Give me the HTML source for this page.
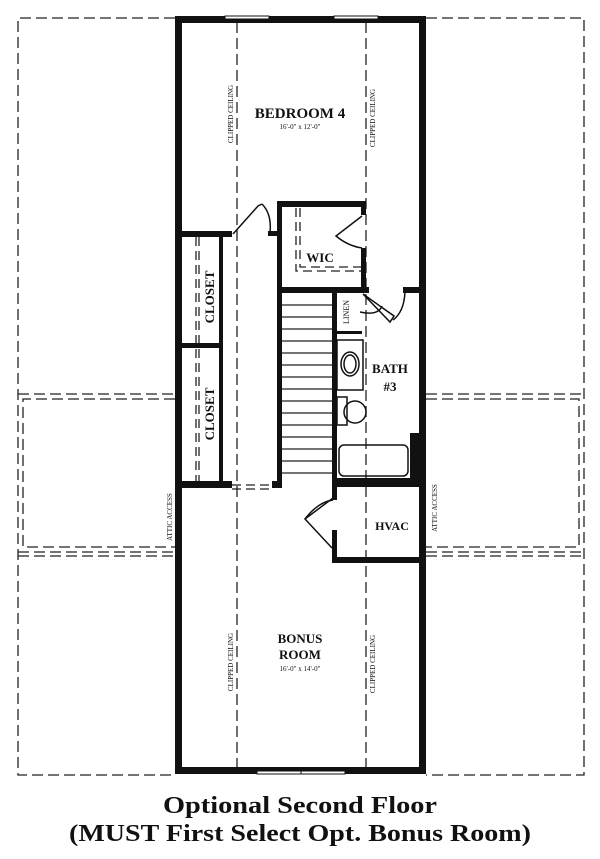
<!DOCTYPE html>
<html><head><style>
html,body{margin:0;padding:0;background:#fff;}
svg{display:block;}
text{font-family:"Liberation Serif",serif;fill:#111;}
</style></head><body>
<svg width="600" height="859" viewBox="0 0 600 859" xmlns="http://www.w3.org/2000/svg">
<g fill="none" stroke="#222" stroke-width="1.3" stroke-dasharray="11,5">
  <polyline points="175,18 18,18 18,775 175,775"/>
  <polyline points="426,18 584,18 584,775 426,775"/>
  <line x1="18" y1="394" x2="175" y2="394"/>
  <line x1="426" y1="394" x2="584" y2="394"/>
  <polyline points="175,399 23,399 23,547 175,547"/>
  <polyline points="426,399 579,399 579,547 426,547"/>
  <line x1="18" y1="552" x2="175" y2="552"/>
  <line x1="18" y1="556" x2="175" y2="556"/>
  <line x1="426" y1="552" x2="584" y2="552"/>
  <line x1="426" y1="556" x2="584" y2="556"/>
  <line x1="237" y1="22" x2="237" y2="770"/>
  <line x1="366" y1="22" x2="366" y2="770"/>
</g>
<g fill="none" stroke="#222" stroke-width="1.3" stroke-dasharray="9,5">
  <line x1="196" y1="237" x2="196" y2="483"/>
  <line x1="199" y1="237" x2="199" y2="483"/>
  <polyline points="296,208 296,271 362,271"/>
  <polyline points="300,208 300,267 362,267"/>
  <line x1="232" y1="485" x2="272" y2="485"/>
  <line x1="232" y1="489" x2="272" y2="489"/>
</g>
<g fill="#111">
  <rect x="175" y="16" width="251" height="7"/>
  <rect x="175" y="767" width="251" height="7"/>
  <rect x="175" y="16" width="7" height="758"/>
  <rect x="419" y="16" width="7" height="758"/>
  <rect x="175" y="231" width="57" height="6"/>
  <rect x="175" y="343" width="48" height="5"/>
  <rect x="219" y="233" width="4" height="252"/>
  <rect x="220" y="260" width="3" height="70"/>
  <rect x="175" y="481" width="57" height="7"/>
  <rect x="272" y="481" width="9" height="7"/>
  <rect x="277" y="202" width="5" height="286"/>
  <rect x="268" y="231" width="12" height="5"/>
  <rect x="277" y="201" width="88" height="6"/>
  <rect x="361" y="201" width="5" height="14"/>
  <rect x="361" y="248" width="5" height="45"/>
  <rect x="277" y="287" width="92" height="6"/>
  <rect x="403" y="287" width="20" height="6"/>
  <rect x="332" y="290" width="5" height="210"/>
  <rect x="332" y="530" width="5" height="32"/>
  <rect x="336" y="331" width="26" height="3"/>
  <rect x="332" y="478" width="90" height="9"/>
  <rect x="332" y="557" width="90" height="6"/>
  <rect x="410" y="433" width="11" height="50"/>
</g>
<g stroke="#222" stroke-width="1.2">
  <line x1="282" y1="305" x2="332" y2="305"/><line x1="282" y1="317" x2="332" y2="317"/>
  <line x1="282" y1="329" x2="332" y2="329"/><line x1="282" y1="341" x2="332" y2="341"/>
  <line x1="282" y1="353" x2="332" y2="353"/><line x1="282" y1="365" x2="332" y2="365"/>
  <line x1="282" y1="377" x2="332" y2="377"/><line x1="282" y1="389" x2="332" y2="389"/>
  <line x1="282" y1="401" x2="332" y2="401"/><line x1="282" y1="413" x2="332" y2="413"/>
  <line x1="282" y1="425" x2="332" y2="425"/><line x1="282" y1="437" x2="332" y2="437"/>
  <line x1="282" y1="449" x2="332" y2="449"/><line x1="282" y1="461" x2="332" y2="461"/>
  <line x1="282" y1="473" x2="332" y2="473"/>
</g>
<g fill="#fff" stroke="#111" stroke-width="1">
  <rect x="225" y="16" width="44" height="3"/>
  <rect x="334" y="16" width="44" height="3"/>
  <rect x="257" y="771" width="44" height="3"/>
  <rect x="301" y="771" width="44" height="3"/>
</g>
<g fill="none" stroke="#111" stroke-width="1.5">
  <path d="M233,234 L258,206 L262,204"/>
  <path d="M262,204 Q272,214 270,233"/>
  <path d="M362,216 L336,236 Q348,246 362,248"/>
  <path d="M363,294 L390,322 L394,316 Z"/>
  <path d="M405,292 Q404,312 393,320"/>
  <path d="M360,312 Q378,316 382,306"/>
  <rect x="337" y="340" width="26" height="50"/>
  <ellipse cx="350" cy="364" rx="9" ry="12"/>
  <ellipse cx="350" cy="364" rx="6" ry="9"/>
  <rect x="337" y="397" width="10" height="28"/>
  <circle cx="355" cy="412" r="11"/>
  <rect x="339" y="445" width="69" height="31" rx="5"/>
  <path d="M333,498 L305,519 L332,548"/>
  <path d="M305,519 Q318,502 333,500"/>
</g>
<text x="300" y="118" font-size="15" font-weight="bold" text-anchor="middle">BEDROOM 4</text>
<text x="300" y="129" font-size="7" text-anchor="middle">16'-0" x 12'-0"</text>
<text x="320" y="262" font-size="13" font-weight="bold" text-anchor="middle">WIC</text>
<text x="390" y="373" font-size="13" font-weight="bold" text-anchor="middle">BATH</text>
<text x="390" y="391" font-size="13" font-weight="bold" text-anchor="middle">#3</text>
<text x="392" y="530" font-size="12" font-weight="bold" text-anchor="middle">HVAC</text>
<text x="300" y="643" font-size="13" font-weight="bold" text-anchor="middle">BONUS</text>
<text x="300" y="659" font-size="13" font-weight="bold" text-anchor="middle">ROOM</text>
<text x="300" y="671" font-size="7" text-anchor="middle">16'-0" x 14'-0"</text>
<text transform="translate(214,297) rotate(-90)" font-size="13" font-weight="bold" text-anchor="middle">CLOSET</text>
<text transform="translate(214,414) rotate(-90)" font-size="13" font-weight="bold" text-anchor="middle">CLOSET</text>
<text transform="translate(349,312) rotate(-90)" font-size="8" text-anchor="middle">LINEN</text>
<text transform="translate(233,114) rotate(-90)" font-size="7" text-anchor="middle">CLIPPED CEILING</text>
<text transform="translate(375,118) rotate(-90)" font-size="7" text-anchor="middle">CLIPPED CEILING</text>
<text transform="translate(233,662) rotate(-90)" font-size="7" text-anchor="middle">CLIPPED CEILING</text>
<text transform="translate(375,664) rotate(-90)" font-size="7" text-anchor="middle">CLIPPED CEILING</text>
<text transform="translate(172,517) rotate(-90)" font-size="7" text-anchor="middle">ATTIC ACCESS</text>
<text transform="translate(437,508) rotate(-90)" font-size="7" text-anchor="middle">ATTIC ACCESS</text>
<text x="300" y="813" font-size="24" font-weight="bold" text-anchor="middle" textLength="274" lengthAdjust="spacingAndGlyphs">Optional Second Floor</text>
<text x="300" y="841" font-size="24" font-weight="bold" text-anchor="middle" textLength="462" lengthAdjust="spacingAndGlyphs">(MUST First Select Opt. Bonus Room)</text>
</svg>
</body></html>
